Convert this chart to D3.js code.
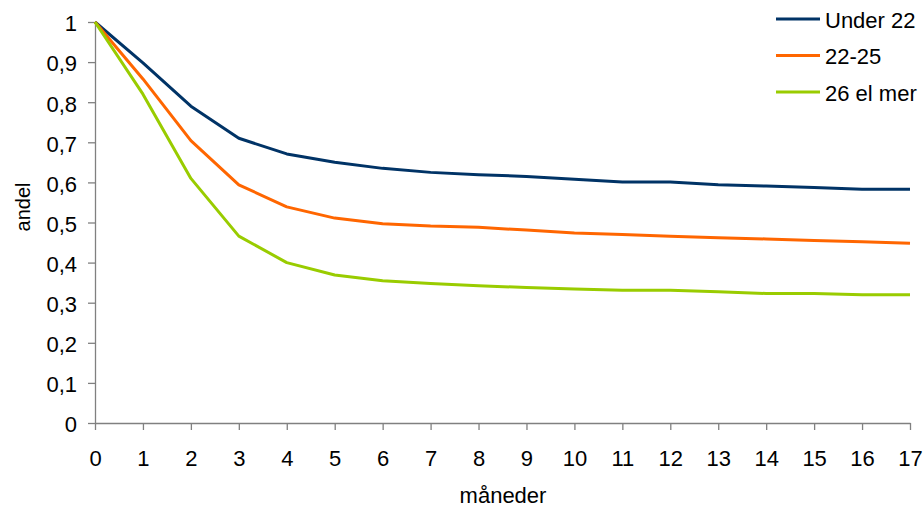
<!DOCTYPE html>
<html><head><meta charset="utf-8">
<script src="https://cdn.jsdelivr.net/npm/d3@7"></script>
<style>body{margin:0;background:#fff;} text{font-family:"Liberation Sans",Arial,sans-serif;}</style>
</head><body>
<svg id="c" width="923" height="507"></svg>
<script>
const months = [0,1,2,3,4,5,6,7,8,9,10,11,12,13,14,15,16,17];
const seriesNames = ["Under 22","22-25","26 el mer"];
const under22 = [1,0.898,0.790,0.710,0.671,0.650,0.635,0.625,0.619,0.615,0.608,0.601,0.601,0.594,0.591,0.587,0.583,0.583];
const age22to25 = [1,0.858,0.704,0.594,0.539,0.511,0.497,0.491,0.488,0.481,0.474,0.470,0.466,0.462,0.459,0.455,0.452,0.448];
const age26plus = [1,0.820,0.610,0.466,0.400,0.369,0.355,0.348,0.342,0.338,0.334,0.331,0.331,0.327,0.323,0.323,0.320,0.320];
const yTicks = [0,0.1,0.2,0.3,0.4,0.5,0.6,0.7,0.8,0.9,1];
const colors = ["#003366","#ff6600","#99cc00"];

const svg = d3.select("#c");
const x = d3.scaleLinear().domain([0,17]).range([95,910]);
const y = d3.scaleLinear().domain([0,1]).range([423,22]);
const fmt = d => d===0?"0":d===1?"1":String(d).replace(".",",");

const gx = svg.append("g").attr("transform","translate(0,423)")
  .call(d3.axisBottom(x).tickValues(months).tickSize(7).tickSizeOuter(0).tickPadding(20).tickFormat(d=>d));
const gy = svg.append("g").attr("transform","translate(95,0)")
  .call(d3.axisLeft(y).tickValues(yTicks).tickSize(7).tickSizeOuter(0).tickPadding(11).tickFormat(fmt));
[gx,gy].forEach(g=>{
  g.selectAll("path,line").attr("stroke","#808080").attr("stroke-width",1.3);
  g.selectAll("text").attr("font-size",22).attr("fill","#000").attr("font-family","Liberation Sans, Arial, sans-serif");
});
gy.selectAll("text").attr("dy","0.4em");

const data = [under22, age22to25, age26plus];
const line = d3.line().x((d,i)=>x(months[i])).y(d=>y(d));
data.forEach((s,k)=>{
  svg.append("path").datum(s).attr("d",line).attr("fill","none")
    .attr("stroke",colors[k]).attr("stroke-width",3).attr("stroke-linejoin","round");
});

svg.append("text").attr("x",503).attr("y",503).attr("text-anchor","middle")
  .attr("font-size",22).text("måneder");
svg.append("text").attr("transform","translate(30,207) rotate(-90)").attr("text-anchor","middle")
  .attr("font-size",20).text("andel");

const lg = svg.append("g");
seriesNames.forEach((n,k)=>{
  const yy = 19 + k*36.5;
  lg.append("line").attr("x1",776).attr("x2",820).attr("y1",yy).attr("y2",yy)
    .attr("stroke",colors[k]).attr("stroke-width",3);
  lg.append("text").attr("x",825).attr("y",yy+8.5).attr("font-size",22).text(n);
});
</script>
</body></html>
